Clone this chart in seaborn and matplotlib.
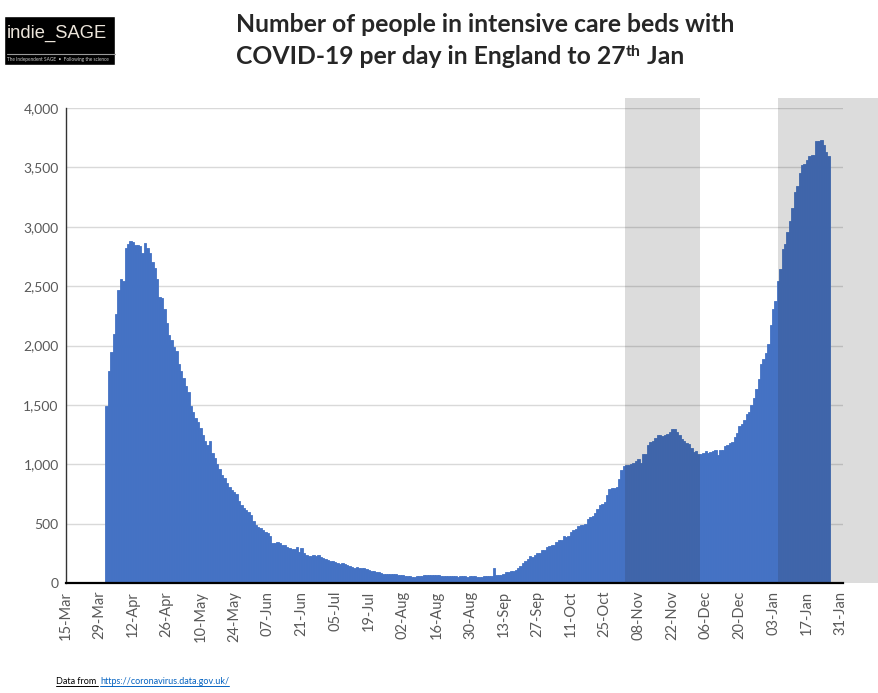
import numpy as np
import pandas as pd
import matplotlib
matplotlib.use("Agg")
import matplotlib.pyplot as plt
import matplotlib.dates as mdates
from matplotlib.patches import Rectangle
from matplotlib.lines import Line2D
import seaborn as sns

# -----------------------------
# Data: COVID-19 patients in ICU beds, England
# -----------------------------
apr_2020 = [1492, 1782, 1948, 2097, 2263, 2469, 2562, 2542, 2821, 2857,
            2880, 2871, 2849, 2849, 2838, 2782, 2866, 2821, 2782, 2702,
            2652, 2562, 2412, 2401, 2308, 2190, 2092, 2047, 1990, 1951]
may_2020 = [1844, 1788, 1723, 1661, 1605, 1492, 1444, 1393, 1357, 1303,
            1244, 1196, 1160, 1196, 1098, 1056, 1005, 963, 909, 887,
            845, 808, 783, 768, 746, 690, 660, 630, 615, 600, 570]
jun_2020 = [520, 490, 475, 465, 445, 430, 420, 400, 340, 338,
            342, 335, 322, 318, 300, 296, 290, 285, 300, 265,
            298, 255, 240, 230, 228, 232, 226, 232, 218, 212]
jul_2020 = [200, 190, 186, 186, 180, 170, 162, 165, 158, 148,
            140, 135, 128, 135, 125, 128, 126, 118, 110, 105,
            98, 95, 90, 82, 80, 80, 78, 74, 72, 72, 70]
aug_2020 = [68, 66, 62, 58, 56, 54, 52, 55, 58, 62,
            66, 64, 66, 68, 68, 65, 64, 62, 60, 60,
            62, 60, 60, 58, 52, 58, 55, 55, 54, 56, 56]
sep_2020 = [55, 52, 48, 54, 60, 62, 62, 63, 128, 64,
            68, 70, 80, 90, 95, 100, 102, 110, 125, 145,
            165, 185, 206, 225, 222, 234, 254, 252, 276, 278]
oct_2020 = [307, 310, 324, 324, 349, 363, 363, 394, 390, 400,
            428, 445, 459, 479, 485, 490, 501, 535, 558, 563,
            592, 625, 654, 662, 682, 738, 794, 797, 803, 808, 873]
nov_2020 = [952, 986, 992, 997, 1000, 1014, 1028, 1048, 1008, 1085,
            1085, 1161, 1189, 1194, 1225, 1245, 1245, 1239, 1248, 1254,
            1273, 1301, 1296, 1268, 1245, 1217, 1197, 1183, 1172, 1141]
dec_2020 = [1104, 1113, 1085, 1085, 1099, 1110, 1096, 1102, 1110, 1118,
            1082, 1118, 1124, 1152, 1166, 1180, 1186, 1231, 1265, 1321,
            1335, 1371, 1427, 1439, 1495, 1560, 1630, 1720, 1846, 1888, 1933]
jan_2021 = [2009, 2169, 2304, 2374, 2543, 2641, 2810, 2852, 2956, 3049,
            3161, 3293, 3344, 3456, 3518, 3532, 3563, 3597, 3602, 3602,
            3723, 3723, 3732, 3687, 3631, 3597]

first_day = "2020-04-01"
# shaded lockdown periods
lockdowns = [("2020-11-02 12:00", "2020-12-03 12:00"),
             ("2021-01-05 00:00", "2021-02-20 00:00")]

x_start, x_end = "2020-03-15", "2021-02-01"
tick_dates = pd.date_range("2020-03-15", "2021-01-31", freq="14D")
y_ticks = np.arange(0, 4001, 500)

values = (apr_2020 + may_2020 + jun_2020 + jul_2020 + aug_2020 + sep_2020
          + oct_2020 + nov_2020 + dec_2020 + jan_2021)
dates = pd.date_range(first_day, periods=len(values), freq="D")
df = pd.DataFrame({"day": mdates.date2num(dates), "beds": values})

# -----------------------------
# Style
# -----------------------------
sns.set_style("white")
plt.rcParams["font.family"] = ["Lato", "DejaVu Sans"]

BLUE = "#4472C4"
GREY_TXT = "#595959"
W, H = 879, 693

fig = plt.figure(figsize=(8.79, 6.93), dpi=100)
ax = fig.add_axes([0.0747, 0.1587, 0.8844, 0.6854])

sns.barplot(data=df, x="day", y="beds", native_scale=True, width=1.0,
            color=BLUE, saturation=1, errorbar=None,
            edgecolor=BLUE, linewidth=0.6, ax=ax, zorder=2)

ax.set_xlim(mdates.date2num(pd.Timestamp(x_start)), mdates.date2num(pd.Timestamp(x_end)))
ax.set_ylim(0, 4000)

# lockdown shading (drawn over the bars, runs a little above the plot)
for a, b in lockdowns:
    x0 = mdates.date2num(pd.Timestamp(a))
    x1 = mdates.date2num(pd.Timestamp(b))
    ax.add_patch(Rectangle((x0, 0), x1 - x0, 4085, facecolor="#262626",
                           alpha=0.16, linewidth=0, zorder=4, clip_on=False))

ax.set_xticks(mdates.date2num(tick_dates))
ax.set_xticklabels(tick_dates.strftime("%d-%b"), rotation=90, color=GREY_TXT, fontsize=10.5)
ax.set_yticks(y_ticks)
ax.set_yticklabels([f"{v:,}" for v in y_ticks], color=GREY_TXT, fontsize=10)
ax.tick_params(axis="x", length=3.6, width=1, color="black", pad=2)
ax.tick_params(axis="y", length=0, pad=5)
ax.set_xlabel("")
ax.set_ylabel("")

ax.yaxis.grid(True, color="#D9D9D9", linewidth=1)
ax.set_axisbelow(True)
for s in ["top", "right"]:
    ax.spines[s].set_visible(False)
ax.spines["bottom"].set_color("black")
ax.spines["bottom"].set_linewidth(1.6)
ax.spines["left"].set_color("#333333")
ax.spines["left"].set_linewidth(1.0)

# -----------------------------
# Title (with superscript "th") and logo
# -----------------------------
title_kw = dict(fontsize=17.8, fontweight="bold", ha="left", va="baseline")
fig.text(236 / W, 1 - 32 / H, "Number of people in intensive care beds with", **title_kw)
p1 = fig.text(236 / W, 1 - 64 / H, "COVID-19 per day in England to 27", **title_kw)

fig.patches.append(Rectangle((4 / W, 1 - 65 / H), 111 / W, 49 / H,
                             transform=fig.transFigure, facecolor="black", zorder=0))
fig.text(7 / W, 1 - 38 / H, "indie_SAGE", color="#ECE5DB", fontsize=13.2,
         family="Liberation Sans", va="baseline")
fig.lines.append(Line2D([7 / W, 115 / W], [1 - 53.5 / H] * 2,
                        transform=fig.transFigure, color="#9A9A9A", linewidth=0.8))
fig.text(7 / W, 1 - 61 / H, "The Independent SAGE  \u2022  Following the science",
         color="#CFCFCF", fontsize=3.4, va="baseline")

# -----------------------------
# Source footer (underlined)
# -----------------------------
t1 = fig.text(56 / W, 1 - 684 / H, "Data from ", fontsize=6.5, color="black", va="baseline")
t2 = fig.text(100 / W, 1 - 684 / H, "https://coronavirus.data.gov.uk/", fontsize=6.5,
              color="#0563C1", va="baseline")

fig.canvas.draw()
bb = p1.get_window_extent()
sup = fig.text(bb.x1 / W + 0.5 / W, 1 - 56 / H, "th", fontsize=11.5, fontweight="bold",
               ha="left", va="baseline")
fig.canvas.draw()
bb = sup.get_window_extent()
fig.text(bb.x1 / W, 1 - 64 / H, " Jan", **title_kw)

for t, c in [(t1, "black"), (t2, "#0563C1")]:
    bb = t.get_window_extent()
    fig.lines.append(Line2D([bb.x0 / W, bb.x1 / W], [1 - 686 / H] * 2,
                            transform=fig.transFigure, color=c, linewidth=0.7))

fig.savefig("out.png", dpi=100)
